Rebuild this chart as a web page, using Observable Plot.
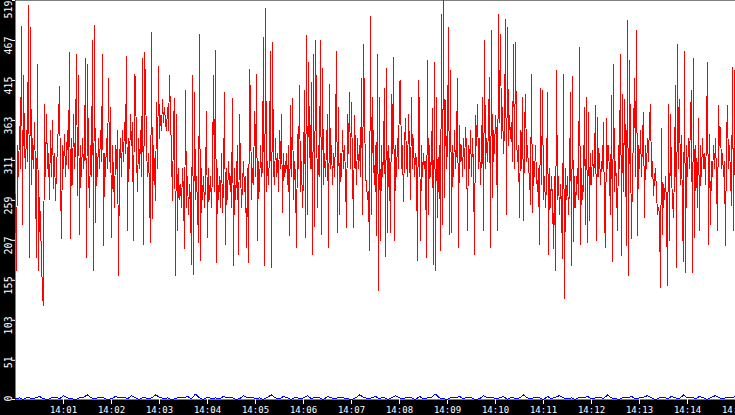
<!DOCTYPE html>
<html>
<head>
<meta charset="utf-8">
<script src="https://cdn.jsdelivr.net/npm/d3@7"></script>
<script src="https://cdn.jsdelivr.net/npm/@observablehq/plot@0.6"></script>
<style>
  html, body { margin: 0; padding: 0; background: black; }
  #chart svg { display: block; }
</style>
</head>
<body>
<div id="chart"></div>
<script>
// Time range shown (UTC clock)
const startTime = "14:00:00";
const endTime = "14:15:00";
const redStepSeconds = 1.25;
const blueStepSeconds = 5;

// Red series (one sample per 1.25 s)
const redValues = [
  267,168,330,290,355,300,485,228,421,330,
  300,350,310,512,185,484,280,340,300,360,
  290,185,436,168,263,228,185,135,122,384,
  290,371,300,320,260,350,290,363,274,320,
  259,300,330,360,407,280,210,330,300,345,
  290,320,350,300,451,209,340,280,371,300,
  330,449,265,421,215,330,290,340,300,320,
  443,185,436,300,250,330,290,467,168,487,
  230,320,290,340,300,350,310,449,200,320,
  290,340,300,417,310,380,211,330,290,250,
  330,300,350,161,310,340,290,350,310,360,
  320,446,220,340,300,371,330,360,207,423,
  419,320,270,340,300,350,290,443,202,451,
  410,330,290,320,270,204,477,235,330,300,
  259,386,300,433,340,370,350,390,360,380,
  360,350,380,350,421,370,320,259,360,391,
  161,371,220,300,260,280,250,300,270,196,
  402,250,290,240,280,260,176,421,163,399,
  260,290,250,204,475,181,300,260,290,250,
  280,375,211,300,260,290,250,300,421,270,
  454,178,300,260,290,250,320,243,280,399,
  202,300,260,310,280,290,250,391,174,300,
  260,290,331,189,371,300,250,280,310,270,
  290,198,300,178,429,390,260,300,280,375,
  290,423,207,310,270,330,290,300,471,174,
  508,270,310,280,320,453,172,464,300,280,
  340,290,320,270,350,300,371,243,320,290,
  300,320,280,330,213,382,290,391,260,310,
  290,198,345,300,409,270,310,250,290,402,
  211,473,240,438,330,300,412,189,449,225,
  467,380,250,330,290,467,215,430,280,320,
  290,330,371,198,410,300,330,280,320,290,
  340,453,217,380,240,320,290,350,300,330,
  290,224,371,320,399,300,386,300,224,370,
  320,280,340,300,330,290,417,240,462,378,
  290,280,260,270,194,498,240,393,310,280,
  330,213,449,142,393,207,330,290,320,404,
  186,430,217,330,300,217,397,320,445,207,
  330,290,340,300,412,415,300,330,257,330,
  366,310,290,371,330,260,393,300,340,290,
  320,310,181,415,373,207,330,290,320,300,
  310,185,441,240,330,290,320,378,176,438,
  168,393,237,300,330,194,501,228,519,263,
  389,300,330,484,215,428,217,330,290,350,
  300,330,418,198,356,310,330,290,340,300,
  354,328,220,330,300,350,290,340,300,189,
  370,330,384,300,340,280,320,393,220,467,
  300,340,310,360,419,198,480,263,350,320,
  370,340,220,501,360,475,340,380,320,350,
  494,241,484,330,370,340,360,310,462,300,
  465,340,310,330,237,350,300,393,233,350,
  397,310,330,300,290,254,423,243,310,290,
  330,290,270,300,202,404,280,402,260,290,
  250,280,399,189,300,250,290,260,196,290,
  168,428,260,290,240,280,250,183,423,131,
  300,260,290,240,280,399,174,420,206,290,
  250,280,300,260,458,202,300,260,280,380,
  228,393,204,373,233,320,280,324,290,310,
  382,207,367,290,320,280,310,300,360,234,
  198,365,300,330,290,240,395,180,436,270,
  310,280,220,330,300,449,187,397,270,390,
  330,200,493,161,441,330,209,300,340,417,
  290,480,213,330,300,350,290,340,373,237,
  330,300,340,310,363,384,290,310,265,290,
  300,270,241,250,241,146,352,215,280,260,
  290,250,148,384,207,371,290,260,237,300,
  408,172,462,300,390,280,343,233,180,453,
  165,330,290,340,300,371,402,165,443,211,
  330,300,250,365,220,330,290,340,300,320,
  280,350,438,202,345,228,310,290,330,300,
  340,290,220,382,330,354,300,320,290,310,
  200,340,382,300,330,290,252,432,220,428,
  161
];

// Blue series (one sample per 5 s)
const blueValues = [
  1,2,0,3,1,2,4,1,0,2, 3,1,5,2,1,0,2,3,6,2, 1,3,2,0,1,4,2,3,1,5, 2,0,3,1,2,6,3,1,2,0,
  1,3,2,4,1,7,2,0,3,1, 2,1,4,2,3,0,1,5,2,3, 1,2,0,3,6,2,1,4,2,0, 3,1,2,5,1,3,2,0,4,2,
  1,3,2,1,0,2,6,3,1,2, 4,1,3,0,2,5,2,1,3,2, 0,4,1,2,3,7,2,1,0,3, 2,4,1,3,2,0,1,5,2,3,
  1,2,4,0,3,1,2,6,2,1, 3,2,0,4,1,3,5,2,1,2, 0,3,2,4,1,2,3,1,6,2, 1,0,3,2,4,1,2,3,5,2,
  0,2,3,1,4,2,1,6,2,3, 1,4,2,0,3,5,2,1,3,2, 4
];

// Axis tick labels
const yTicks = [0, 51, 103, 155, 207, 259, 311, 363, 415, 467, 519];
const xTickLabels = ["14:01","14:02","14:03","14:04","14:05","14:06","14:07","14:08",
                     "14:09","14:10","14:11","14:12","14:13","14:14","14:15"];

const day = "2024-01-01";
const t0 = new Date(`${day}T${startTime}Z`);
const t1 = new Date(`${day}T${endTime}Z`);
const red = redValues.map((v, i) => ({t: new Date(+t0 + i * redStepSeconds * 1000), v}));
const blue = blueValues.map((v, i) => ({t: new Date(+t0 + i * blueStepSeconds * 1000), v}));
const xTicks = xTickLabels.map(l => new Date(`${day}T${l}:00Z`));
const fmt = d3.utcFormat("%H:%M");

const yLabelOpts = {
  y: d => d, text: d => String(d), frameAnchor: "left", dx: -7,
  rotate: -90, textAnchor: "end", fill: "white", fontSize: 10
};

const chart = Plot.plot({
  width: 735,
  height: 415,
  marginLeft: 15,
  marginRight: 0,
  marginTop: 0,
  marginBottom: 16,
  style: {background: "black", color: "white", fontFamily: "DejaVu Sans Mono", fontSize: "9px"},
  x: {type: "utc", domain: [t0, t1]},
  y: {domain: [0, 519]},
  marks: [
    Plot.frame({fill: "white", stroke: null}),
    Plot.axisX({ticks: xTicks, tickFormat: fmt, tickSize: 5, tickPadding: 2, stroke: "white", fill: "white", label: null}),
    Plot.axisY({ticks: yTicks, tickSize: 3, tickFormat: () => "", stroke: "white", label: null}),
    Plot.text(yTicks.slice(0, -1), {...yLabelOpts, dy: -4}),
    Plot.text(yTicks.slice(-1), {...yLabelOpts, dy: 0}),
    Plot.line(blue, {x: "t", y: "v", stroke: "#0000ff", strokeWidth: 1, shapeRendering: "crispEdges"}),
    Plot.line(red, {x: "t", y: "v", stroke: "#ff0000", strokeWidth: 1, shapeRendering: "crispEdges"})
  ]
});
document.getElementById("chart").appendChild(chart);
</script>
</body>
</html>
